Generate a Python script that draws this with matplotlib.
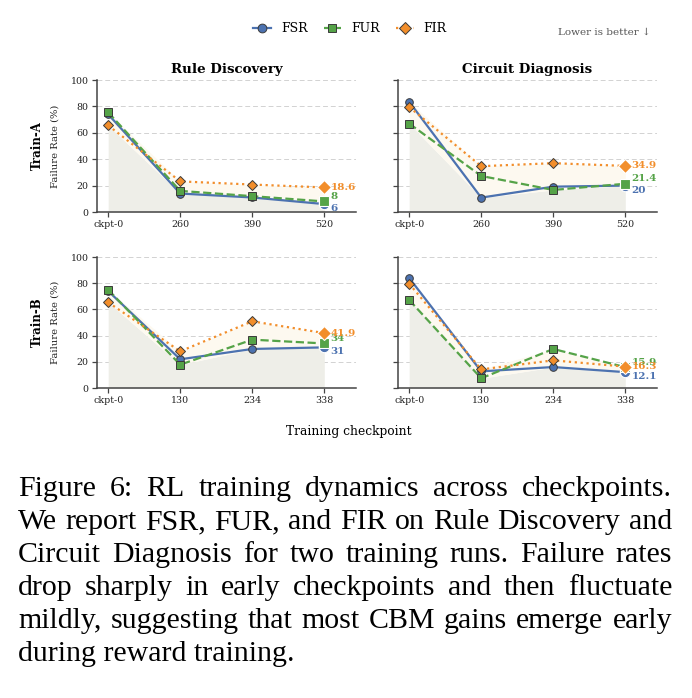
import matplotlib
matplotlib.use("Agg")
import matplotlib.pyplot as plt
from matplotlib.lines import Line2D
import numpy as np

# ---------------- data ----------------
runs = ["Train-A", "Train-B"]
tasks = ["Rule Discovery", "Circuit Diagnosis"]
ckpts_A = ["ckpt-0", "260", "390", "520"]
ckpts_B = ["ckpt-0", "130", "234", "338"]
metrics = ["FSR", "FUR", "FIR"]

A_rule_fsr = [74, 14, 11, 6]
A_rule_fur = [75.5, 16, 12, 8]
A_rule_fir = [65.6, 23.2, 20.8, 18.6]
A_circ_fsr = [83.5, 10.9, 19.2, 20]
A_circ_fur = [67, 27.3, 16.7, 21.4]
A_circ_fir = [79.5, 34.7, 37, 34.9]
B_rule_fsr = [74, 21.9, 29.8, 31]
B_rule_fur = [75, 17.8, 36.9, 34]
B_rule_fir = [65.4, 28, 50.9, 41.9]
B_circ_fsr = [84, 12.7, 16, 12.1]
B_circ_fur = [67.2, 7.4, 29.8, 15.9]
B_circ_fir = [79.6, 14.2, 21.1, 16.3]

caption_lines = [
    "Figure 6:  RL training dynamics across checkpoints.",
    "We report FSR, FUR, and FIR on Rule Discovery and",
    "Circuit Diagnosis for two training runs.  Failure rates",
    "drop sharply in early checkpoints and then fluctuate",
    "mildly, suggesting that most CBM gains emerge early",
    "during reward training.",
]

# ---------------- style ----------------
plt.rcParams['font.family'] = ['DejaVu Serif']
colors = {"FSR": "#4C72B0", "FUR": "#55A348", "FIR": "#F28E2B"}
lstyles = {"FSR": "-", "FUR": "--", "FIR": ":"}
markers = {"FSR": "o", "FUR": "s", "FIR": "D"}
msizes = {"FSR": 5.5, "FUR": 5.5, "FIR": 5.2}
label_dy = {"FSR": -3.2, "FUR": 3.6, "FIR": 0.0}
spine_c = "#444444"

W, H = 692, 698
fig = plt.figure(figsize=(W / 100, H / 100), dpi=100)


def rect(l, t, r, b):
    return [l / W, 1 - b / H, (r - l) / W, (b - t) / H]


rects = {(0, 0): rect(97, 80, 356, 212), (0, 1): rect(398, 80, 657, 212),
         (1, 0): rect(97, 257, 356, 388), (1, 1): rect(398, 257, 657, 388)}

data = {
    (0, 0): (A_rule_fsr, A_rule_fur, A_rule_fir),
    (0, 1): (A_circ_fsr, A_circ_fur, A_circ_fir),
    (1, 0): (B_rule_fsr, B_rule_fur, B_rule_fir),
    (1, 1): (B_circ_fsr, B_circ_fur, B_circ_fir),
}
ticklabels = {0: ckpts_A, 1: ckpts_B}

for (r, c), series in data.items():
    ax = fig.add_axes(rects[(r, c)])
    x = np.arange(len(ticklabels[r]))
    arr = np.array(series, dtype=float)
    lo = arr.min(axis=0)
    hi = arr.max(axis=0)
    ax.fill_between(x, 0, lo, color="#EEEEE8", zorder=1, linewidth=0)
    ax.fill_between(x, lo, hi, color="#FDF9F0", zorder=1, linewidth=0)
    for m, vals in zip(metrics, series):
        ax.plot(x, vals, color=colors[m], ls=lstyles[m], lw=1.6,
                marker=markers[m], ms=msizes[m], mec="#3a3a3a", mew=0.7,
                markevery=[0, 1, 2], zorder=3)
    for m, vals in zip(metrics, series):
        ax.plot(x[-1], vals[-1], marker=markers[m], ms=msizes[m] + 2.0,
                color=colors[m], mec="white", mew=0.8, ls="none", zorder=4)
        ax.annotate(f"{vals[-1]:g}", (x[-1], vals[-1]),
                    xytext=(4.5, label_dy[m]), textcoords="offset points",
                    ha="left", va="center", fontsize=7.5, fontweight="bold",
                    color=colors[m], zorder=5)
    ax.set_xlim(-0.155, 3.44)
    ax.set_ylim(0, 100)
    ax.set_yticks([0, 20, 40, 60, 80, 100])
    ax.set_xticks(x)
    ax.set_xticklabels(ticklabels[r])
    ax.grid(axis="y", ls=(0, (5, 3)), color="#D2D2D2", lw=0.7, zorder=0)
    ax.set_axisbelow(True)
    for s in ["top", "right"]:
        ax.spines[s].set_visible(False)
    for s in ["left", "bottom"]:
        ax.spines[s].set_color(spine_c)
        ax.spines[s].set_linewidth(1.1)
    ax.tick_params(axis="both", labelsize=6.8, color=spine_c, length=3.5,
                   width=0.9, labelcolor="#222222", pad=2.5)
    if c == 1:
        ax.tick_params(axis="y", labelleft=False)
    else:
        ax.text(-0.232, 0.5, runs[r], transform=ax.transAxes, rotation=90,
                ha="center", va="center", fontsize=8.5, fontweight="bold")
        ax.text(-0.162, 0.5, "Failure Rate (%)", transform=ax.transAxes,
                rotation=90, ha="center", va="center", fontsize=7.2,
                color="#222222")
    if r == 0:
        ax.set_title(tasks[c], fontsize=9.6, fontweight="bold", pad=5)

fig.text(349 / W, 1 - 431 / H, "Training checkpoint", ha="center",
         va="center", fontsize=8.8)

handles = [Line2D([0], [0], color=colors[m], ls=lstyles[m], lw=1.6,
                  marker=markers[m], ms=msizes[m] + 0.8, mec="#3a3a3a", mew=0.7)
           for m in metrics]
fig.legend(handles, metrics, loc="center", bbox_to_anchor=(350 / W, 1 - 29 / H),
           ncol=3, frameon=False, fontsize=9, handlelength=1.4,
           columnspacing=1.3, handletextpad=0.8)
fig.text(651 / W, 1 - 32 / H, "Lower is better \u2193", ha="right",
         va="center", fontsize=7.5, color="#555555")

# ---------------- caption (justified) ----------------
fig.canvas.draw()
rend = fig.canvas.get_renderer()
x_left, x_right = 18, 672
cap_fs = 21.5
base0, step = 496, 33
for i, line in enumerate(caption_lines):
    yb = 1 - (base0 + i * step) / H
    if i == len(caption_lines) - 1:
        fig.text(x_left / W, yb, line, ha="left", va="baseline",
                 fontsize=cap_fs, family="Liberation Serif")
        continue
    words = line.split()
    ts = [fig.text(0, yb, w, ha="left", va="baseline", fontsize=cap_fs,
                   family="Liberation Serif") for w in words]
    widths = [t.get_window_extent(rend).width for t in ts]
    gap = (x_right - x_left - sum(widths)) / (len(words) - 1)
    xp = x_left
    for t, w in zip(ts, widths):
        t.set_x(xp / W)
        xp += w + gap

fig.savefig("out.png", dpi=100)
